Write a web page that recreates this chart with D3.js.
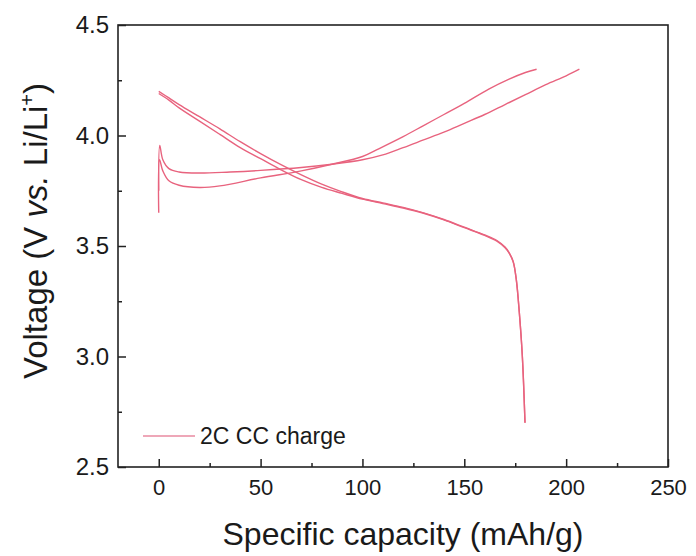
<!DOCTYPE html>
<html>
<head>
<meta charset="utf-8">
<script src="https://cdn.jsdelivr.net/npm/d3@7"></script>
<style>
  body { margin: 0; background: #fff; }
  text { font-family: "Liberation Sans", Arial, sans-serif; fill: #1a1a1a; }
</style>
</head>
<body>
<div id="chart"></div>
<script>
// Данные: заряд (две кривые), разряд (две кривые)
const chargeACap = [0, 0.5, 2, 5, 10, 20, 35, 50, 70, 85, 100, 110, 120, 130, 140, 150, 160, 170, 180, 190, 200, 206.5];
const chargeAV   = [3.75, 3.955, 3.89, 3.85, 3.835, 3.83, 3.835, 3.842, 3.855, 3.87, 3.89, 3.912, 3.945, 3.98, 4.015, 4.055, 4.095, 4.14, 4.185, 4.23, 4.27, 4.30];

const chargeBCap = [0, 0.4, 2, 5, 10, 20, 30, 50, 70, 85, 100, 108, 120, 130, 140, 150, 162, 172, 180, 185.5];
const chargeBV   = [3.65, 3.89, 3.84, 3.795, 3.775, 3.765, 3.772, 3.808, 3.84, 3.87, 3.905, 3.94, 3.995, 4.045, 4.095, 4.145, 4.21, 4.255, 4.285, 4.30];

const dischargeACap = [0, 5, 10, 20, 30, 40, 50, 60, 70, 80, 90, 100, 110, 120, 130, 140, 150, 160, 166, 170, 172, 174, 175.5, 177, 178.5, 179.8];
const dischargeAV   = [4.20, 4.17, 4.14, 4.085, 4.03, 3.972, 3.918, 3.868, 3.822, 3.78, 3.745, 3.715, 3.695, 3.675, 3.65, 3.62, 3.585, 3.55, 3.525, 3.495, 3.47, 3.43, 3.35, 3.20, 3.00, 2.70];

const dischargeBCap = [0, 5, 10, 20, 30, 40, 50, 60, 70, 80, 90, 100, 110, 120, 130, 140, 150, 160, 166, 170, 172, 174, 175.5, 177, 178.5, 179.8];
const dischargeBV   = [4.19, 4.16, 4.125, 4.065, 4.005, 3.945, 3.895, 3.845, 3.80, 3.765, 3.738, 3.712, 3.692, 3.672, 3.648, 3.618, 3.583, 3.548, 3.522, 3.492, 3.468, 3.428, 3.35, 3.20, 3.00, 2.70];

// Подписи осей
const xTicks = [0, 50, 100, 150, 200, 250];
const xMinorTicks = [25, 75, 125, 175, 225];
const yTicks = [2.5, 3.0, 3.5, 4.0, 4.5];
const yMinorTicks = [2.75, 3.25, 3.75, 4.25];
const legendLabel = "2C CC charge";

const lineColor = "#e8637e";

// Размеры
const width = 696;
const height = 556;
const marginLeft = 118;
const marginRight = 28;
const marginTop = 25;
const marginBottom = 89;

const svg = d3.select("#chart").append("svg")
    .attr("width", width)
    .attr("height", height);

// Шкалы
const xScale = d3.scaleLinear()
    .domain([-20, 250])
    .range([marginLeft, width - marginRight]);

const yScale = d3.scaleLinear()
    .domain([2.5, 4.5])
    .range([height - marginBottom, marginTop]);

// Оси (засечки внутрь)
const xAxis = d3.axisBottom(xScale)
    .tickValues(xTicks)
    .tickSize(-8)
    .tickPadding(12)
    .tickFormat(d3.format("d"));

const xAxisMinor = d3.axisBottom(xScale)
    .tickValues(xMinorTicks)
    .tickSize(-4)
    .tickFormat("");

const yAxis = d3.axisLeft(yScale)
    .tickValues(yTicks)
    .tickSize(-8)
    .tickPadding(9)
    .tickFormat(d3.format(".1f"));

const yAxisMinor = d3.axisLeft(yScale)
    .tickValues(yMinorTicks)
    .tickSize(-4)
    .tickFormat("");

svg.append("g")
    .attr("transform", `translate(0, ${height - marginBottom})`)
    .call(xAxis);
svg.append("g")
    .attr("transform", `translate(0, ${height - marginBottom})`)
    .call(xAxisMinor);
svg.append("g")
    .attr("class", "y-axis")
    .attr("transform", `translate(${marginLeft}, 0)`)
    .call(yAxis);
svg.append("g")
    .attr("transform", `translate(${marginLeft}, 0)`)
    .call(yAxisMinor);

svg.selectAll(".domain").remove();
svg.selectAll(".tick line").attr("stroke", "#222").attr("stroke-width", 1.5);
svg.selectAll(".tick text")
    .style("font-size", "22px")
    .style("font-family", "'Liberation Sans', Arial, sans-serif")
    .attr("fill", "#1a1a1a");
svg.selectAll(".y-axis .tick text").style("font-size", "24px");

// Рамка
svg.append("rect")
    .attr("x", marginLeft)
    .attr("y", marginTop)
    .attr("width", width - marginLeft - marginRight)
    .attr("height", height - marginTop - marginBottom)
    .attr("fill", "none")
    .attr("stroke", "#222")
    .attr("stroke-width", 1.6);

// Кривые
const line = d3.line()
    .x(d => xScale(d[0]))
    .y(d => yScale(d[1]))
    .curve(d3.curveCatmullRom.alpha(0.5));

const curves = [
    d3.zip(chargeACap, chargeAV),
    d3.zip(chargeBCap, chargeBV),
    d3.zip(dischargeACap, dischargeAV),
    d3.zip(dischargeBCap, dischargeBV)
];

svg.append("g")
    .selectAll("path")
    .data(curves)
    .enter()
    .append("path")
    .attr("d", line)
    .attr("fill", "none")
    .attr("stroke", lineColor)
    .attr("stroke-width", 1.4)
    .attr("stroke-linejoin", "round");

// Легенда
svg.append("line")
    .attr("x1", 143)
    .attr("x2", 195)
    .attr("y1", 436)
    .attr("y2", 436)
    .attr("stroke", "#e88aa0")
    .attr("stroke-width", 1.5);

svg.append("text")
    .attr("x", 200)
    .attr("y", 444)
    .text(legendLabel)
    .style("font-size", "23px");

// Подпись оси X
svg.append("text")
    .attr("x", 403)
    .attr("y", 545)
    .attr("text-anchor", "middle")
    .text("Specific capacity (mAh/g)")
    .style("font-size", "32px");

// Подпись оси Y
const yTitle = svg.append("text")
    .attr("transform", "translate(47, 231) rotate(-90)")
    .attr("text-anchor", "middle")
    .style("font-size", "33px");
yTitle.append("tspan").text("Voltage (V ");
yTitle.append("tspan").style("font-style", "italic").text("vs.");
yTitle.append("tspan").text(" Li/Li");
yTitle.append("tspan").attr("dy", -13).style("font-size", "20px").text("+");
yTitle.append("tspan").attr("dy", 13).text(")");
</script>
</body>
</html>
